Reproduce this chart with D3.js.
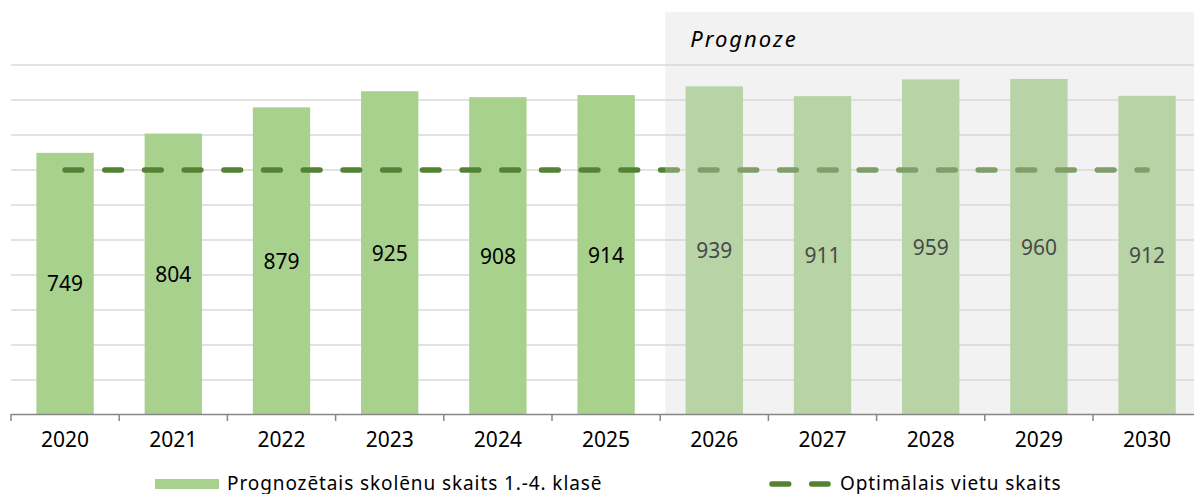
<!DOCTYPE html>
<html>
<head>
<meta charset="utf-8">
<script src="https://cdn.jsdelivr.net/npm/d3@7"></script>
<style>
  body { margin: 0; background: #fff; }
  svg { display: block; font-family: "Noto Sans", sans-serif; }
</style>
</head>
<body>
<div id="chart"></div>
<script>
// data
const years = ["2020", "2021", "2022", "2023", "2024", "2025", "2026", "2027", "2028", "2029", "2030"];
const pupils = [749, 804, 879, 925, 908, 914, 939, 911, 959, 960, 912];
const optimal = [700, 700, 700, 700, 700, 700, 700, 700, 700, 700, 700];
const forecastStart = "2026";
const yTicks = [0, 100, 200, 300, 400, 500, 600, 700, 800, 900, 1000];
const legendLabels = ["Prognozētais skolēnu skaits 1.-4. klasē", "Optimālais vietu skaits"];

const width = 1194;
const height = 494;
const left = 11;
const bandCount = years.length;
const step = 108.2;

const svg = d3.select("#chart").append("svg")
  .attr("width", width)
  .attr("height", height);

const x = d3.scaleBand()
  .domain(years)
  .range([left, left + step * bandCount])
  .paddingInner(0.47)
  .paddingOuter(0.235);

const y = d3.scaleLinear().domain([0, 1000]).range([415, 65]);

// gridlines
svg.append("g").selectAll("line")
  .data(yTicks.slice(1))
  .join("line")
  .attr("x1", left)
  .attr("x2", width)
  .attr("y1", d => y(d))
  .attr("y2", d => y(d))
  .attr("stroke", "#d9d9d9")
  .attr("stroke-width", 1.3);

// bars
svg.append("g").selectAll("rect")
  .data(years)
  .join("rect")
  .attr("x", d => x(d))
  .attr("width", x.bandwidth())
  .attr("y", (d, i) => y(pupils[i]))
  .attr("height", (d, i) => y(0) - y(pupils[i]))
  .attr("fill", "#a9d18e");

// optimal dashed line
const line = d3.line()
  .x((d, i) => x(years[i]) + x.bandwidth() / 2)
  .y(d => y(d));

svg.append("path")
  .datum(optimal)
  .attr("d", line)
  .attr("fill", "none")
  .attr("stroke", "#548235")
  .attr("stroke-width", 5.5)
  .attr("stroke-linecap", "round")
  .attr("stroke-dasharray", "16.7 23");

// value labels
svg.append("g").selectAll("text")
  .data(years)
  .join("text")
  .attr("x", d => x(d) + x.bandwidth() / 2)
  .attr("y", (d, i) => (y(pupils[i]) + y(0)) / 2)
  .attr("dy", "0.36em")
  .attr("text-anchor", "middle")
  .attr("fill", "#000")
  .style("font-size", "21px")
  .text((d, i) => pupils[i]);

// forecast overlay
const shadeX = x(forecastStart) - x.step() * x.paddingInner() / 2 + 5;
svg.append("rect")
  .attr("x", shadeX)
  .attr("y", y(1151))
  .attr("width", width - shadeX)
  .attr("height", y(0) - y(1151))
  .attr("fill", "rgb(215,215,215)")
  .attr("fill-opacity", 0.33);

svg.append("text")
  .attr("x", shadeX + 25)
  .attr("y", 47)
  .attr("fill", "#000")
  .style("font-size", "22px")
  .style("font-style", "italic")
  .style("letter-spacing", "2px")
  .text("Prognoze");

// x axis
svg.append("line")
  .attr("x1", left)
  .attr("x2", width)
  .attr("y1", 414.5)
  .attr("y2", 414.5)
  .attr("stroke", "#878787")
  .attr("stroke-width", 1.5);

svg.append("g").selectAll("line")
  .data(d3.range(bandCount + 1))
  .join("line")
  .attr("x1", i => left + i * x.step())
  .attr("x2", i => left + i * x.step())
  .attr("y1", 414)
  .attr("y2", 421)
  .attr("stroke", "#878787")
  .attr("stroke-width", 1.5);

svg.append("g").selectAll("text")
  .data(years)
  .join("text")
  .attr("x", d => x(d) + x.bandwidth() / 2)
  .attr("y", 447)
  .attr("text-anchor", "middle")
  .attr("fill", "#000")
  .style("font-size", "21px")
  .text(d => d);

// legend
const legend = svg.append("g");
legend.append("rect")
  .attr("x", 155)
  .attr("y", 479)
  .attr("width", 64)
  .attr("height", 10)
  .attr("fill", "#a9d18e");
legend.append("text")
  .attr("x", 227)
  .attr("y", 489.5)
  .attr("fill", "#000")
  .style("font-size", "19px")
  .style("letter-spacing", "0.9px")
  .text(legendLabels[0]);

legend.append("line")
  .attr("x1", 772)
  .attr("x2", 828)
  .attr("y1", 484)
  .attr("y2", 484)
  .attr("stroke", "#548235")
  .attr("stroke-width", 5.5)
  .attr("stroke-linecap", "round")
  .attr("stroke-dasharray", "16.7 23");
legend.append("text")
  .attr("x", 840)
  .attr("y", 489.5)
  .attr("fill", "#000")
  .style("font-size", "19px")
  .style("letter-spacing", "0.9px")
  .text(legendLabels[1]);
</script>
</body>
</html>
